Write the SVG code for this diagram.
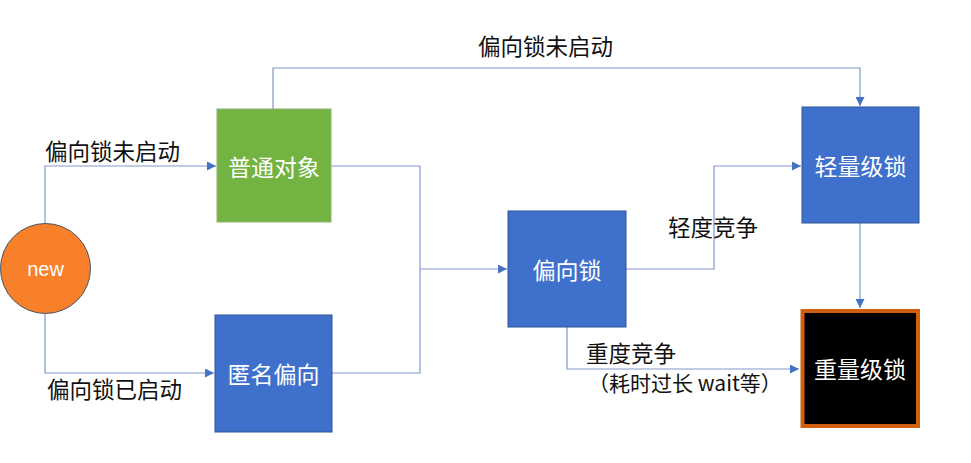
<svg xmlns="http://www.w3.org/2000/svg" width="971" height="463" viewBox="0 0 971 463">
<style>
.conn{fill:none;stroke:#8397CC;stroke-width:1.2}
.lbl{font-family:"Noto Sans CJK SC","Microsoft YaHei",sans-serif;font-size:22.5px;fill:#111}
.nt{font-family:"Noto Sans CJK SC","Microsoft YaHei",sans-serif;font-size:23px;fill:#fff;text-anchor:middle;dominant-baseline:central}
.blue{fill:#3F71CC;stroke:#2F5597;stroke-width:1}
</style>
<defs>
<marker id="arr" viewBox="0 0 10 10" refX="10" refY="5" markerWidth="9" markerHeight="9" markerUnits="userSpaceOnUse" orient="auto">
<path d="M0,0 L10,5 L0,10 z" fill="#4472C4"/>
</marker>
</defs>
<rect width="971" height="463" fill="#fff"/>
<g id="connectors">
<path class="conn" d="M45,223 V166 H216" marker-end="url(#arr)"/>
<path class="conn" d="M45,314 V373 H214" marker-end="url(#arr)"/>
<path class="conn" d="M331,166 H420 V373 H332"/>
<path class="conn" d="M420,269 H507" marker-end="url(#arr)"/>
<path class="conn" d="M273,109 V68 H860 V106" marker-end="url(#arr)"/>
<path class="conn" d="M626,269 H714 V166 H801" marker-end="url(#arr)"/>
<path class="conn" d="M860,223 V308" marker-end="url(#arr)"/>
<path class="conn" d="M567,327 V369 H799" marker-end="url(#arr)"/>
</g>
<g id="labels">
<text class="lbl" x="45" y="160">偏向锁未启动</text>
<text class="lbl" x="47" y="398">偏向锁已启动</text>
<text class="lbl" x="478" y="55">偏向锁未启动</text>
<text class="lbl" x="668" y="236">轻度竞争</text>
<text class="lbl" x="586" y="362">重度竞争</text>
<text class="lbl" x="588" y="391" style="font-size:21px">（耗时过长 wait等）</text>
</g>
<g id="node-new">
<circle cx="45.5" cy="268.5" r="45" fill="#F8802A" stroke="#44546A" stroke-width="1"/>
<text class="nt" x="45.5" y="269" style="font-family:'Liberation Sans',Arial,sans-serif;font-size:20px">new</text>
</g>
<g id="node-normal">
<rect x="217" y="109" width="114" height="113" fill="#72B341" stroke="#8FB476" stroke-width="1"/>
<text class="nt" x="274" y="166">普通对象</text>
</g>
<g id="node-anon">
<rect x="215" y="315" width="117" height="117" class="blue"/>
<text class="nt" x="273.5" y="373">匿名偏向</text>
</g>
<g id="node-biased">
<rect x="508" y="211" width="118" height="116" class="blue"/>
<text class="nt" x="567" y="269">偏向锁</text>
</g>
<g id="node-light">
<rect x="802" y="107" width="117" height="116" class="blue"/>
<text class="nt" x="860.5" y="165">轻量级锁</text>
</g>
<g id="node-heavy">
<rect x="802.5" y="311" width="115.5" height="115" fill="#000" stroke="#D0600E" stroke-width="4"/>
<text class="nt" x="860" y="368">重量级锁</text>
</g>
</svg>
